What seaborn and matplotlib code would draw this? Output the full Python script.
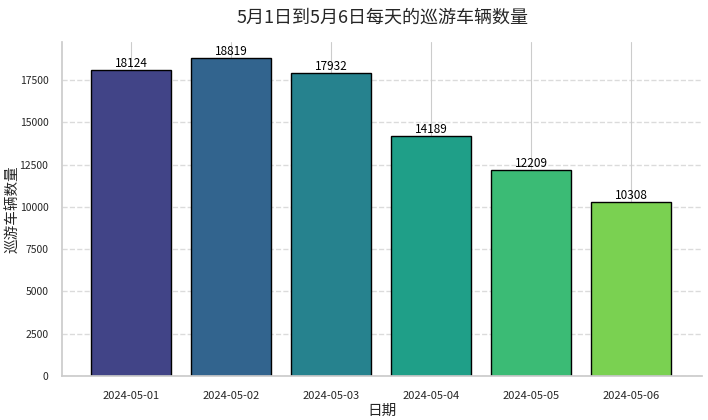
import matplotlib
matplotlib.use("Agg")
import matplotlib.pyplot as plt
import seaborn as sns
import pandas as pd
import numpy as np

dates = ["2024-05-01", "2024-05-02", "2024-05-03", "2024-05-04", "2024-05-05", "2024-05-06"]
counts = [18124, 18819, 17932, 14189, 12209, 10308]

sns.set_theme(style="whitegrid")
plt.rcParams['font.family'] = ['Noto Sans CJK SC', 'DejaVu Sans']
plt.rcParams['axes.unicode_minus'] = False

cmap = matplotlib.colormaps["viridis"]
colors = [cmap(v) for v in np.linspace(0.2, 0.8, len(dates))]

df = pd.DataFrame({"日期": dates, "数量": counts})

fig, ax = plt.subplots(figsize=(7.08, 4.2), dpi=100)
sns.barplot(data=df, x="日期", y="数量", hue="日期", palette=colors, legend=False,
            edgecolor="black", linewidth=1, ax=ax, saturation=1)
for c in ax.containers:
    ax.bar_label(c, fmt="%d", fontsize=8.5, padding=0, color="black")
ax.xaxis.grid(True, linestyle="-", color="#cccccc", linewidth=0.8)
ax.yaxis.grid(True, linestyle="--", alpha=0.7)
ax.set_axisbelow(True)
ax.set_xlim(-0.69, 5.71)
sns.despine(ax=ax)
ax.set_title("5月1日到5月6日每天的巡游车辆数量", fontsize=13, pad=14)
ax.set_xlabel("日期", fontsize=10.5, labelpad=2)
ax.set_ylabel("巡游车辆数量", fontsize=10.5)
ax.yaxis.set_label_coords(-0.066, 0.5)
ax.tick_params(axis="x", labelsize=8, pad=5)
ax.tick_params(axis="y", labelsize=7.5, pad=4)
fig.subplots_adjust(left=0.088, right=0.992, top=0.9, bottom=0.105)
fig.savefig("out.png", dpi=100)
